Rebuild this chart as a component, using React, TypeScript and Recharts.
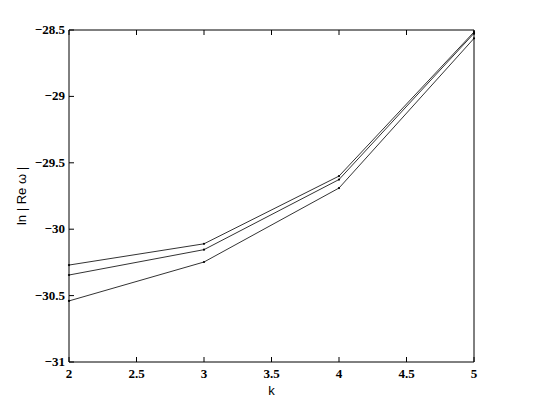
import React from 'react';
import { LineChart, Line, XAxis, YAxis } from 'recharts';

const kValues = [2, 3, 4, 5];
const seriesA = [-30.27, -30.11, -29.6, -28.515];
const seriesB = [-30.345, -30.154, -29.626, -28.525];
const seriesC = [-30.54, -30.247, -29.69, -28.563];
const xTicks = [2, 2.5, 3, 3.5, 4, 4.5, 5];
const yTicks = [-31, -30.5, -30, -29.5, -29, -28.5];

const data = kValues.map((k, i) => ({ k, a: seriesA[i], b: seriesB[i], c: seriesC[i] }));

const fmt = (v: number) => String(v).replace('-', '\u2212');
const TICK = 5;
const serif: React.CSSProperties = { fontFamily: "'Liberation Serif', 'Times New Roman', serif", fontWeight: 700, fontSize: 13 };

const renderBottomTick = (props: any) => {
  const { x, y, payload, index } = props;
  return (
    <g key={`b${index}`}>
      <line x1={x} y1={y} x2={x} y2={y - TICK} stroke="#000" strokeWidth={1} />
      <text x={x} y={y + 16} textAnchor="middle" fill="#000" style={serif}>
        {fmt(payload.value)}
      </text>
    </g>
  );
};
const renderTopTick = (props: any) => {
  const { x, y, index } = props;
  return <line key={`t${index}`} x1={x} y1={y} x2={x} y2={y + TICK} stroke="#000" strokeWidth={1} />;
};
const renderLeftTick = (props: any) => {
  const { x, y, payload, index } = props;
  return (
    <g key={`l${index}`}>
      <line x1={x} y1={y} x2={x + TICK} y2={y} stroke="#000" strokeWidth={1} />
      <text x={x - 4} y={y + 4} textAnchor="end" fill="#000" style={serif}>
        {fmt(payload.value)}
      </text>
    </g>
  );
};
const renderRightTick = (props: any) => {
  const { x, y, index } = props;
  return <line key={`r${index}`} x1={x} y1={y} x2={x - TICK} y2={y} stroke="#000" strokeWidth={1} />;
};

export default function App() {
  return (
    <div style={{ position: 'absolute', left: 0, top: 0, width: 540, height: 406, background: '#fff' }}>
      <LineChart width={540} height={406} data={data} margin={{ top: 29, right: 65, bottom: 0, left: 0 }}>
        <XAxis
          xAxisId="bottom"
          dataKey="k"
          type="number"
          domain={[2, 5]}
          ticks={xTicks}
          orientation="bottom"
          height={44}
          tickSize={0}
          tickMargin={0}
          tickLine={false}
          stroke="#000"
          tick={renderBottomTick}
          interval={0}
          label={{ value: 'k', position: 'center', dy: 6, style: { fontFamily: 'Liberation Sans', fontSize: 13, fill: '#000' } }}
        />
        <XAxis
          xAxisId="top"
          dataKey="k"
          type="number"
          domain={[2, 5]}
          ticks={xTicks}
          orientation="top"
          height={1}
          tickSize={0}
          tickMargin={0}
          tickLine={false}
          stroke="#000"
          interval={0}
          tick={renderTopTick}
        />
        <YAxis
          yAxisId="left"
          type="number"
          domain={[-31, -28.5]}
          ticks={yTicks}
          orientation="left"
          width={69}
          tickSize={0}
          tickMargin={0}
          tickLine={false}
          stroke="#000"
          interval={0}
          tick={renderLeftTick}
          label={{ value: 'ln | Re \u03c9 |', angle: -90, position: 'center', dx: -13, style: { fontFamily: 'Liberation Sans', fontSize: 13, fill: '#000', textAnchor: 'middle' } }}
        />
        <YAxis
          yAxisId="right"
          type="number"
          domain={[-31, -28.5]}
          ticks={yTicks}
          orientation="right"
          width={1}
          tickSize={0}
          tickMargin={0}
          tickLine={false}
          stroke="#000"
          interval={0}
          tick={renderRightTick}
        />
        {(['a', 'b', 'c'] as const).map((key) => (
          <Line
            key={key}
            xAxisId="bottom"
            yAxisId="left"
            dataKey={key}
            type="linear"
            stroke="#333"
            strokeWidth={1}
            dot={{ r: 1.1, fill: '#000', stroke: 'none' }}
            activeDot={false}
            isAnimationActive={false}
          />
        ))}
      </LineChart>
    </div>
  );
}
